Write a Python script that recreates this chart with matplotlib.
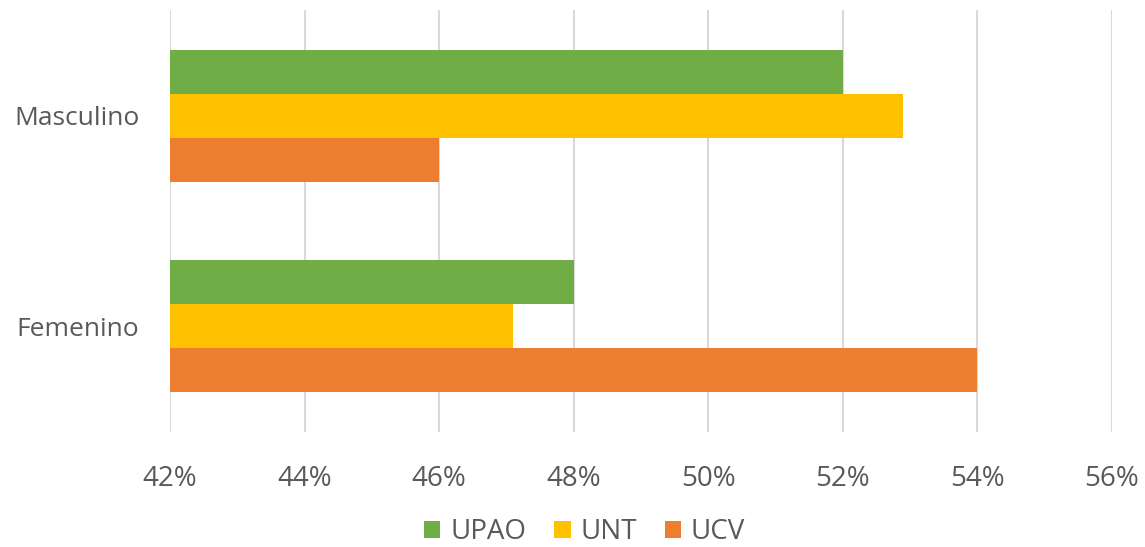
import matplotlib
matplotlib.use("Agg")
import numpy as np
from matplotlib import pyplot as plt
from matplotlib.ticker import FuncFormatter

categories = ["Femenino", "Masculino"]
series = ["UPAO", "UNT", "UCV"]
upao = [48.0, 52.0]
unt = [47.1, 52.9]
ucv = [54.0, 46.0]
colors = ["#70AD47", "#FFC000", "#ED7D31"]

plt.rcParams["font.family"] = ["Open Sans", "DejaVu Sans"]

fig = plt.figure(figsize=(11.45, 5.47), dpi=100)
ax = fig.add_axes([0.1485, 0.210, 0.8225, 0.772])

y = np.arange(len(categories))
h = 0.21
base = 42.0
for vals, off, col, name in zip([upao, unt, ucv], [h, 0, -h], colors, series):
    widths = np.array(vals) - base
    ax.barh(y + off, widths, left=base, height=h, color=col, label=name, zorder=3)

ax.set_xlim(42, 56)
ax.set_ylim(-0.505, 1.505)
ax.set_xticks(np.arange(42, 57, 2))
ax.xaxis.set_major_formatter(FuncFormatter(lambda v, p: f"{v:.0f}%"))
ax.set_yticks(y)
ax.set_yticklabels(categories)
ax.grid(axis="x", color="#D9D9D9", linewidth=1.5, zorder=0)
for s in ax.spines.values():
    s.set_visible(False)
ax.tick_params(axis="both", length=0, colors="#595959")
ax.tick_params(axis="x", pad=24, labelsize=20)
ax.tick_params(axis="y", pad=22, labelsize=19)

ax.legend(loc="center", bbox_to_anchor=(0.44, -0.237), ncol=3, frameon=False,
          fontsize=20, labelcolor="#595959", handlelength=0.6, handleheight=0.6,
          handletextpad=0.35, columnspacing=1.0)

fig.savefig("out.png", dpi=100)
